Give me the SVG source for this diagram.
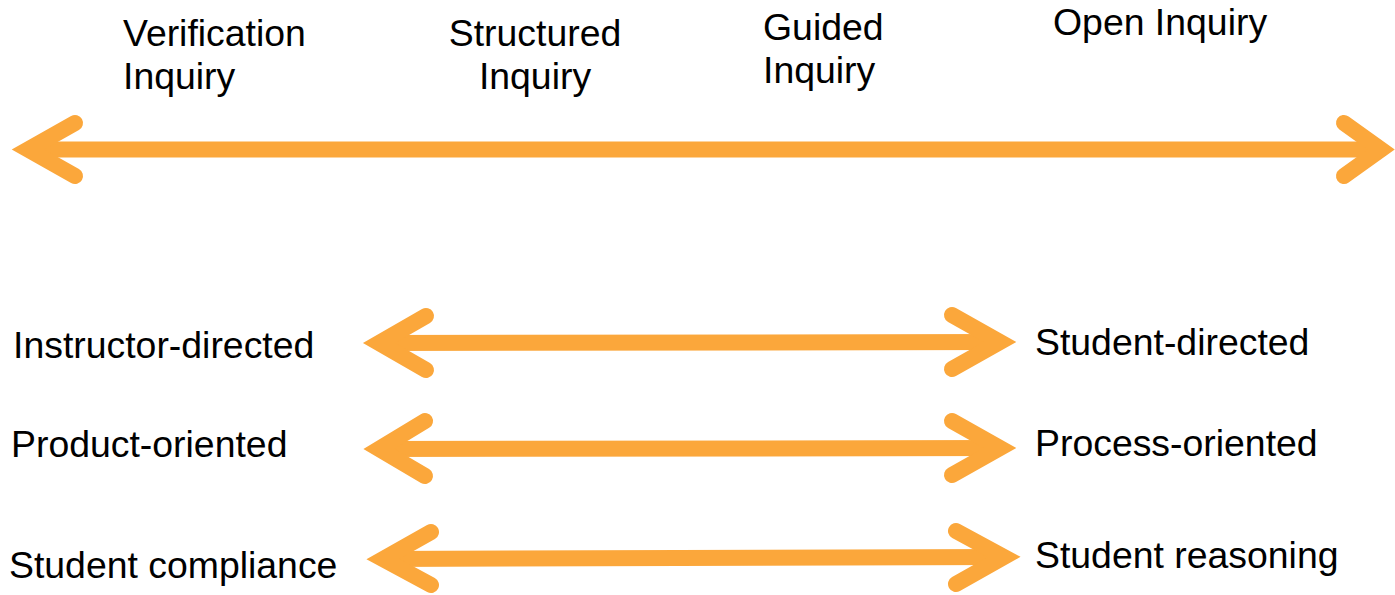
<svg xmlns="http://www.w3.org/2000/svg" width="1395" height="595" viewBox="0 0 1395 595">
  <style>
    .lbl { font-family: "Liberation Sans", Arial, sans-serif; font-size: 37.4px; fill: #000000; }
    .shaft { fill: none; stroke: #FBA73B; stroke-width: 16; stroke-linecap: butt; }
    .head { fill: none; stroke: #FBA73B; stroke-width: 16; stroke-linecap: round; stroke-linejoin: miter; stroke-miterlimit: 10; }
  </style>
  <rect width="1395" height="595" fill="#ffffff"/>

  <!-- Inquiry levels along the top axis -->
  <g id="verification">
    <text class="lbl" x="123" y="46">Verification</text>
    <text class="lbl" x="123" y="89">Inquiry</text>
  </g>
  <g id="structured">
    <text class="lbl" x="535" y="46" text-anchor="middle">Structured</text>
    <text class="lbl" x="535" y="89" text-anchor="middle">Inquiry</text>
  </g>
  <g id="guided">
    <text class="lbl" x="763" y="40">Guided</text>
    <text class="lbl" x="763" y="83">Inquiry</text>
  </g>
  <g id="open">
    <text class="lbl" x="1053" y="35">Open Inquiry</text>
  </g>

  <!-- Left-hand poles -->
  <g id="instructor-directed"><text class="lbl" x="13" y="358">Instructor-directed</text></g>
  <g id="product-oriented"><text class="lbl" x="11" y="457">Product-oriented</text></g>
  <g id="student-compliance"><text class="lbl" x="9" y="578">Student compliance</text></g>

  <!-- Right-hand poles -->
  <g id="student-directed"><text class="lbl" x="1035" y="355">Student-directed</text></g>
  <g id="process-oriented"><text class="lbl" x="1035" y="456">Process-oriented</text></g>
  <g id="student-reasoning"><text class="lbl" x="1035" y="568">Student reasoning</text></g>

  <!-- Double-headed continuum arrows -->
  <g id="connectors">
    <g id="axis-top">
      <path class="shaft" d="M28,149.5 H1381"/>
      <path class="head" d="M75,123 L28,149.5 L75,176"/>
      <path class="head" d="M1344,123 L1381,149.5 L1344,176"/>
    </g>
    <g id="axis-direction">
      <path class="shaft" d="M379,343 L1000,342"/>
      <path class="head" d="M426,316 L379,343 L426,370"/>
      <path class="head" d="M952,315 L1000,342 L952,369"/>
    </g>
    <g id="axis-orientation">
      <path class="shaft" d="M379,449 L1000,448"/>
      <path class="head" d="M425,421 L379,449 L425,476"/>
      <path class="head" d="M952,421 L1000,448 L952,475"/>
    </g>
    <g id="axis-outcome">
      <path class="shaft" d="M383,559 L1004,557"/>
      <path class="head" d="M431,532 L383,559 L431,585"/>
      <path class="head" d="M956,531 L1004,557 L956,584"/>
    </g>
  </g>
</svg>
